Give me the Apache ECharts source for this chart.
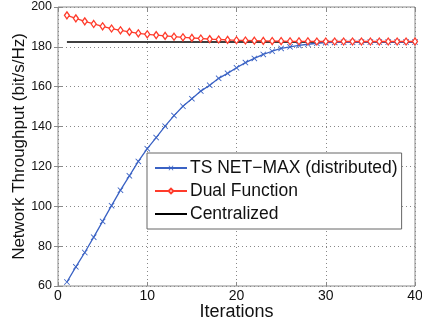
<!DOCTYPE html>
<html>
<head>
<meta charset="utf-8">
<script src="https://cdn.jsdelivr.net/npm/echarts@6/dist/echarts.min.js"></script>
<style>
  html, body { margin: 0; padding: 0; background: #fff; }
  #chart { width: 422px; height: 324px; }
</style>
</head>
<body>
<div id="chart"></div>
<script>
// iterations 1..40
const iterations = [1, 2, 3, 4, 5, 6, 7, 8, 9, 10, 11, 12, 13, 14, 15, 16, 17, 18, 19, 20,
  21, 22, 23, 24, 25, 26, 27, 28, 29, 30, 31, 32, 33, 34, 35, 36, 37, 38, 39, 40]
const tsNetMax = [62.0, 69.6, 76.8, 84.5, 92.4, 100.3, 108.1, 115.3, 122.5, 128.9,
  134.5, 140.2, 145.5, 150.2, 154.0, 157.8, 160.7, 164.2, 166.7, 169.5,
  172.1, 174.2, 176.2, 177.8, 179.2, 180.0, 180.7, 181.3, 181.8, 182.1,
  182.2, 182.3, 182.3, 182.4, 182.4, 182.4, 182.4, 182.4, 182.4, 182.4]
const dualFunction = [195.8, 194.3, 192.8, 191.5, 190.3, 189.2, 188.3, 187.5, 186.8, 186.3,
  185.9, 185.5, 185.1, 184.8, 184.5, 184.2, 183.9, 183.7, 183.5, 183.3,
  183.2, 183.1, 183.0, 182.9, 182.9, 182.8, 182.8, 182.8, 182.7, 182.7,
  182.7, 182.7, 182.7, 182.7, 182.7, 182.7, 182.7, 182.7, 182.7, 182.7]
const centralized = [182.4, 182.4, 182.4, 182.4, 182.4, 182.4, 182.4, 182.4, 182.4, 182.4,
  182.4, 182.4, 182.4, 182.4, 182.4, 182.4, 182.4, 182.4, 182.4, 182.4,
  182.4, 182.4, 182.4, 182.4, 182.4, 182.4, 182.4, 182.4, 182.4, 182.4,
  182.4, 182.4, 182.4, 182.4, 182.4, 182.4, 182.4, 182.4, 182.4, 182.4]

const pairs = (ys) => iterations.map((x, i) => [x, ys[i]])

const font = 'Liberation Sans, Arial, sans-serif'
const xMark = 'path://M0,1L1,0L5,4L9,0L10,1L6,5L10,9L9,10L5,6L1,10L0,9L4,5Z'
const tickStyle = { show: true, inside: true, length: 4, lineStyle: { color: '#8a8a8a' } }

const chart = echarts.init(document.getElementById('chart'))
const gridLine = { show: true, lineStyle: { type: [1, 3], color: '#888', width: 1 } }
const option = {
  animation: false,
  grid: {
    left: 58, right: 7, top: 7, bottom: 38,
    outerBoundsMode: 'none',
    containLabel: false,
    show: true, borderColor: '#8a8a8a', borderWidth: 1,
  },
  legend: {
    orient: 'vertical',
    left: 147,
    top: 153,
    padding: [6, 4, 6, 7],
    itemGap: 5,
    itemWidth: 32,
    itemHeight: 6,
    backgroundColor: '#fff',
    borderColor: '#666',
    borderWidth: 1,
    borderRadius: 0,
    textStyle: { fontFamily: font, fontSize: 17.5, color: '#111', padding: [0, 0, 0, -2] },
    data: [
      { name: 'TS NET\u2212MAX (distributed)' },
      { name: 'Dual Function' },
      { name: 'Centralized', itemStyle: { opacity: 0 } },
    ],
  },
  xAxis: [{
    type: 'value',
    min: 0, max: 40, interval: 10,
    name: 'Iterations',
    nameLocation: 'middle',
    nameGap: 17,
    nameMoveOverlap: false,
    nameTextStyle: { fontFamily: font, fontSize: 18, color: '#111' },
    axisLine: { show: false },
    axisTick: tickStyle,
    axisLabel: { fontFamily: font, fontSize: 14, color: '#111', margin: 3 },
    splitLine: gridLine,
  }, {
    type: 'value', position: 'top',
    min: 0, max: 40, interval: 10,
    axisLine: { show: false },
    axisTick: tickStyle,
    axisLabel: { show: false },
    splitLine: { show: false },
  }],
  yAxis: [{
    type: 'value',
    min: 60, max: 200, interval: 20,
    name: 'Network Throughput (bit/s/Hz)',
    nameLocation: 'middle',
    nameGap: 30,
    nameMoveOverlap: false,
    nameTextStyle: { fontFamily: font, fontSize: 17, color: '#111' },
    axisLine: { show: false },
    axisTick: tickStyle,
    axisLabel: { fontFamily: font, fontSize: 12.5, color: '#111', margin: 6 },
    splitLine: gridLine,
  }, {
    type: 'value', position: 'right',
    min: 60, max: 200, interval: 20,
    axisLine: { show: false },
    axisTick: tickStyle,
    axisLabel: { show: false },
    splitLine: { show: false },
  }],
  series: [
    {
      name: 'TS NET\u2212MAX (distributed)',
      type: 'line',
      data: pairs(tsNetMax),
      symbol: xMark,
      symbolSize: 6,
      lineStyle: { color: '#3a62c4', width: 1.3 },
      itemStyle: { color: '#3a62c4' },
      z: 3,
    },
    {
      name: 'Dual Function',
      type: 'line',
      data: pairs(dualFunction),
      symbol: 'diamond',
      symbolSize: [5, 7],
      lineStyle: { color: '#ff3b2b', width: 1.3 },
      itemStyle: { color: '#fff', borderColor: '#ff3b2b', borderWidth: 1.3 },
      z: 4,
    },
    {
      name: 'Centralized',
      type: 'line',
      data: pairs(centralized),
      symbol: 'none',
      lineStyle: { color: '#000', width: 1.5 },
      itemStyle: { color: '#000' },
      z: 2,
    },
  ],
}
chart.setOption(option)
</script>
</body>
</html>
